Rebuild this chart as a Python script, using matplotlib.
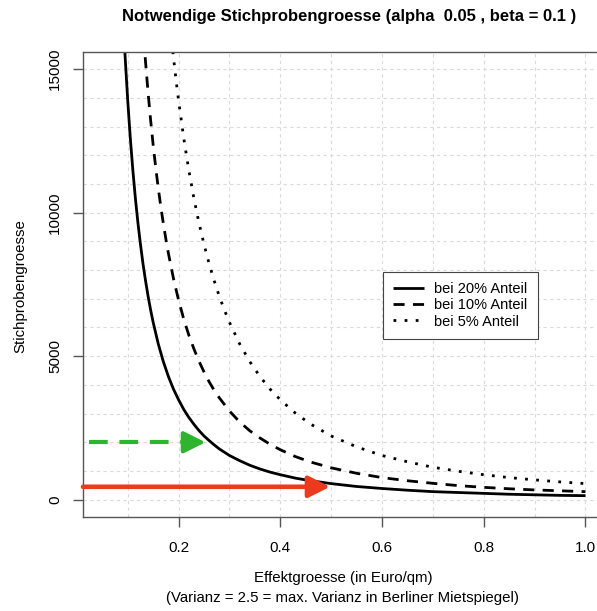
import numpy as np
import matplotlib
matplotlib.use('Agg')
from matplotlib import pyplot as plt

plt.rcParams['font.family'] = ['Liberation Sans', 'DejaVu Sans']

# values
x20 = [0.09, 0.095, 0.10, 0.105, 0.11, 0.115, 0.12, 0.125, 0.13, 0.135, 0.14, 0.145,
       0.15, 0.16, 0.17, 0.18, 0.19, 0.20, 0.21, 0.22, 0.23, 0.24, 0.25, 0.26,
       0.27, 0.28, 0.30, 0.32, 0.34, 0.36, 0.38, 0.40, 0.43, 0.46, 0.50, 0.55,
       0.60, 0.65, 0.70, 0.75, 0.80, 0.85, 0.90, 0.95, 1.00]
n20 = [17160, 15400, 13900, 12610, 11490, 10510, 9650, 8900, 8220, 7630, 7090, 6610,
       6180, 5430, 4810, 4290, 3850, 3480, 3150, 2870, 2630, 2410, 2220, 2060,
       1910, 1770, 1540, 1360, 1200, 1070, 960, 870, 750, 660, 560, 460,
       390, 330, 280, 250, 220, 190, 170, 150, 140]

x10 = [0.125, 0.13, 0.135, 0.14, 0.145, 0.15, 0.155, 0.16, 0.165, 0.17, 0.175, 0.18,
       0.19, 0.20, 0.21, 0.22, 0.23, 0.24, 0.25, 0.26, 0.27, 0.28, 0.30, 0.32,
       0.34, 0.36, 0.38, 0.40, 0.43, 0.46, 0.50, 0.55, 0.60, 0.65, 0.70, 0.75,
       0.80, 0.85, 0.90, 0.95, 1.00]
n10 = [17790, 16450, 15250, 14180, 13220, 12360, 11570, 10860, 10210, 9620, 9080, 8580,
       7700, 6950, 6300, 5740, 5260, 4830, 4450, 4110, 3810, 3550, 3090, 2710,
       2400, 2150, 1930, 1740, 1500, 1310, 1110, 920, 770, 660, 570, 490,
       430, 380, 340, 310, 280]

x5 = [0.18, 0.185, 0.19, 0.195, 0.20, 0.21, 0.22, 0.23, 0.24, 0.25, 0.26, 0.27,
      0.28, 0.29, 0.30, 0.32, 0.34, 0.36, 0.38, 0.40, 0.43, 0.46, 0.50, 0.55,
      0.60, 0.65, 0.70, 0.75, 0.80, 0.85, 0.90, 0.95, 1.00]
n5 = [17160, 16250, 15400, 14620, 13900, 12610, 11490, 10510, 9650, 8900, 8220, 7630,
      7090, 6610, 6180, 5430, 4810, 4290, 3850, 3480, 3010, 2630, 2220, 1840,
      1540, 1320, 1130, 990, 870, 770, 690, 620, 560]

labels = ['bei 20% Anteil', 'bei 10% Anteil', 'bei 5% Anteil']

# arrows: (start x, end x, y)
green_arrow = (0.023, 0.253, 2000)
red_arrow = (0.012, 0.498, 450)

fig = plt.figure(figsize=(5.97, 6.11), dpi=100)
ax = fig.add_axes([0.139, 0.154, 0.874, 0.761])

ax.set_xlim(0.012, 1.038)
ax.set_ylim(-600, 15600)

# grid
for gx in np.arange(0.1, 1.01, 0.1):
    ax.axvline(gx, color='#dadada', lw=0.8, ls=(0, (3, 3)), zorder=0)
for gy in range(0, 15001, 1000):
    ax.axhline(gy, color='#dadada', lw=0.8, ls=(0, (3, 3)), zorder=0)

l1, = ax.plot(x20, n20, color='black', lw=2, solid_capstyle='butt')
l2, = ax.plot(x10, n10, color='black', lw=2, ls=(0, (4, 3)))
l3, = ax.plot(x5, n5, color='black', lw=2, ls=(0, (1, 3)))

head = '-|>,head_length=1.0,head_width=0.5'

# green dashed arrow
gx0, gx1, gy = green_arrow
ax.plot([gx0, gx1 - 0.03], [gy, gy], color='#2db52d', lw=3, ls=(0, (4.5, 2.8)),
        dash_capstyle='butt', zorder=3)
ax.annotate('', xy=(gx1, gy), xytext=(gx1 - 0.04, gy),
            arrowprops=dict(arrowstyle=head, color='#2db52d', lw=3,
                            mutation_scale=13, shrinkA=0, shrinkB=0), zorder=3)

# red arrow
rx0, rx1, ry = red_arrow
ax.annotate('', xy=(rx1, ry), xytext=(rx0, ry),
            arrowprops=dict(arrowstyle=head, color='#ee3a1c', lw=3.3,
                            mutation_scale=13, shrinkA=0, shrinkB=0), zorder=3)

ax.set_xticks([0.2, 0.4, 0.6, 0.8, 1.0])
ax.set_xticklabels(['0.2', '0.4', '0.6', '0.8', '1.0'])
ax.set_yticks([0, 5000, 10000, 15000])
ax.set_yticklabels(['0', '5000', '10000', '15000'], rotation=90, va='center')
ax.tick_params(axis='both', length=7, width=1, color='#555555', labelsize=11)
ax.tick_params(axis='x', pad=10)
ax.tick_params(axis='y', pad=8)

for s in ax.spines.values():
    s.set_color('#555555')
    s.set_linewidth(1)

leg = ax.legend([l1, l2, l3], labels, loc='upper left',
                bbox_to_anchor=(383 / 597, 1 - 272 / 611),
                bbox_transform=fig.transFigure, fontsize=10.5, fancybox=False,
                framealpha=1, edgecolor='#444444', handlelength=2.1,
                borderpad=0.7, labelspacing=0.15, handletextpad=0.7,
                borderaxespad=0)
leg.get_frame().set_linewidth(0.8)

fig.text(349 / 597, 1 - 17 / 611,
         'Notwendige Stichprobengroesse (alpha  0.05 , beta = 0.1 )',
         ha='center', va='center', fontsize=12, fontweight='bold')
fig.text(343 / 597, 1 - 578 / 611, 'Effektgroesse (in Euro/qm)',
         ha='center', va='center', fontsize=10.8)
fig.text(343 / 597, 1 - 598 / 611,
         '(Varianz = 2.5 = max. Varianz in Berliner Mietspiegel)',
         ha='center', va='center', fontsize=10.8)
fig.text(20 / 597, 1 - 286 / 611, 'Stichprobengroesse', rotation=90,
         ha='center', va='center', fontsize=10.8)

fig.savefig('out.png', dpi=100)
